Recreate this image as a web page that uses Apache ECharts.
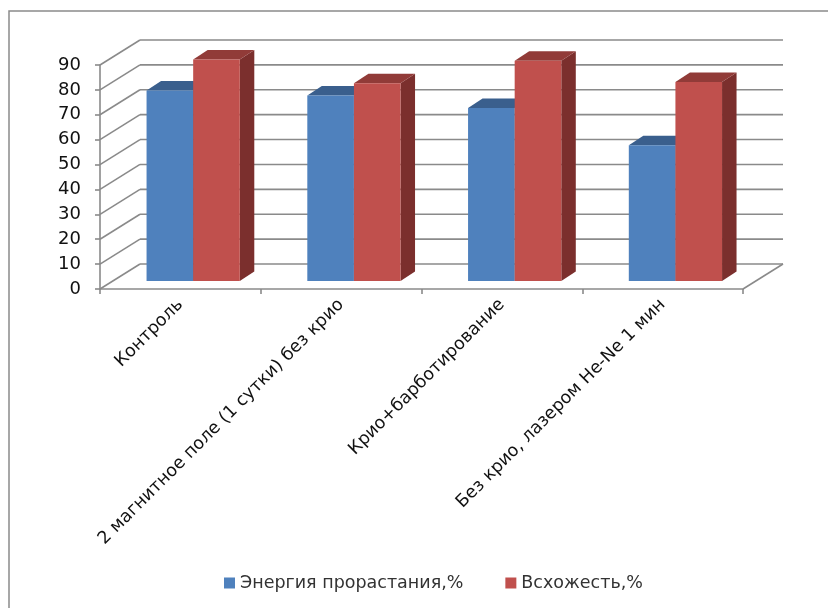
<!DOCTYPE html>
<html>
<head>
<meta charset="utf-8">
<script src="https://cdn.jsdelivr.net/npm/echarts@6/dist/echarts.min.js"></script>
<style>
  html, body { margin: 0; padding: 0; background: #fff; }
  #chart { width: 828px; height: 608px; }
</style>
</head>
<body>
<div id="chart"></div>
<script>
// данные
var categories = ['Контроль', '2 магнитное поле (1 сутки) без крио', 'Крио+барботирование', 'Без крио, лазером He-Ne 1 мин'];
var energyValues = [76.5, 74.5, 69.5, 54.5];
var germinationValues = [89, 79.5, 88.5, 80];
var seriesNames = ['Энергия прорастания,%', 'Всхожесть,%'];
var yTicks = [0, 10, 20, 30, 40, 50, 60, 70, 80, 90];

// псевдо-3D
var WALL_DX = 40, WALL_DY = 25;     // смещение задней стенки
var FACE_DX = 12.8, FACE_DY = -8;   // передняя грань столбцов
var DEPTH_DX = 14.5, DEPTH_DY = 9.5; // глубина столбца
var BAR_FRAC = 0.29;
var LINE_COLOR = '#8a8a8a';
var FONT = 'DejaVu Sans';

var blueColors = { front: '#4f81bd', top: '#3a5f8d', side: '#2f4f78' };
var redColors = { front: '#c0504d', top: '#913b38', side: '#7b2f2d' };

function wallSeries() {
  return {
    type: 'custom',
    silent: true,
    z: 1,
    data: yTicks.map(function (v) { return [0, v]; }),
    encode: { x: 0, y: 1 },
    renderItem: function (params, api) {
      var cs = params.coordSys;
      var y = api.coord([0, api.value(1)])[1];
      var x0 = cs.x;
      var st = { stroke: LINE_COLOR, lineWidth: 1.6 };
      var kids = [
        { type: 'line', shape: { x1: x0, y1: y, x2: x0 + WALL_DX, y2: y - WALL_DY }, style: st },
        { type: 'line', shape: { x1: x0 + WALL_DX, y1: y - WALL_DY, x2: x0 + cs.width + WALL_DX, y2: y - WALL_DY }, style: st }
      ];
      if (api.value(1) === 0) {
        kids.push({ type: 'line', shape: { x1: x0 + cs.width, y1: y, x2: x0 + cs.width + WALL_DX, y2: y - WALL_DY }, style: st });
      }
      return { type: 'group', children: kids };
    }
  };
}

function barSeries(name, values, idx, colors) {
  return {
    type: 'custom',
    name: name,
    z: 2 + idx,
    itemStyle: { color: colors.front },
    data: values.map(function (v, i) { return [i, v]; }),
    encode: { x: 0, y: 1 },
    renderItem: function (params, api) {
      var c = api.value(0);
      var base = api.coord([c, 0]);
      var top = api.coord([c, api.value(1)]);
      var w = api.size([1, 0])[0] * BAR_FRAC;
      var fx = base[0] + FACE_DX - w + idx * w;
      var by = base[1] + FACE_DY;
      var ty = top[1] + FACE_DY;
      var dx = DEPTH_DX, dy = DEPTH_DY;
      return {
        type: 'group',
        children: [
          { type: 'polygon', shape: { points: [[fx + w, ty], [fx + w + dx, ty - dy], [fx + w + dx, by - dy], [fx + w, by]] }, style: { fill: colors.side } },
          { type: 'polygon', shape: { points: [[fx, ty], [fx + w, ty], [fx + w + dx, ty - dy], [fx + dx, ty - dy]] }, style: { fill: colors.top } },
          { type: 'rect', shape: { x: fx, y: ty, width: w, height: by - ty }, style: { fill: colors.front } }
        ]
      };
    }
  };
}

var chart = echarts.init(document.getElementById('chart'));
chart.setOption({
  animation: false,
  graphic: [{
    type: 'rect', silent: true,
    shape: { x: 9, y: 11, width: 900, height: 700 },
    style: { fill: 'none', stroke: '#8a8a8a', lineWidth: 1.5 }
  }],
  legend: {
    data: seriesNames,
    left: 219, top: 569,
    icon: 'rect', itemWidth: 11, itemHeight: 11, itemGap: 42,
    textStyle: { fontFamily: FONT, fontSize: 17.5, color: '#333' }
  },
  grid: { left: 100, top: 65, width: 643, height: 224 },
  xAxis: {
    type: 'category',
    data: categories,
    boundaryGap: true,
    axisLine: { lineStyle: { color: LINE_COLOR, width: 1.6 } },
    axisTick: { show: true, length: 5, lineStyle: { color: LINE_COLOR, width: 1.6 } },
    axisLabel: { rotate: 45, margin: 13, interval: 0, fontFamily: FONT, fontSize: 17.5, color: '#111' },
    splitLine: { show: false }
  },
  yAxis: {
    type: 'value',
    min: 0, max: 90, interval: 10,
    axisLine: { show: true, lineStyle: { color: LINE_COLOR, width: 1.6 } },
    axisTick: { show: true, length: 5, lineStyle: { color: LINE_COLOR, width: 1.6 } },
    axisLabel: { margin: 19, fontFamily: FONT, fontSize: 18, color: '#111' },
    splitLine: { show: false }
  },
  series: [
    wallSeries(),
    barSeries(seriesNames[0], energyValues, 0, blueColors),
    barSeries(seriesNames[1], germinationValues, 1, redColors)
  ]
});
</script>
</body>
</html>
